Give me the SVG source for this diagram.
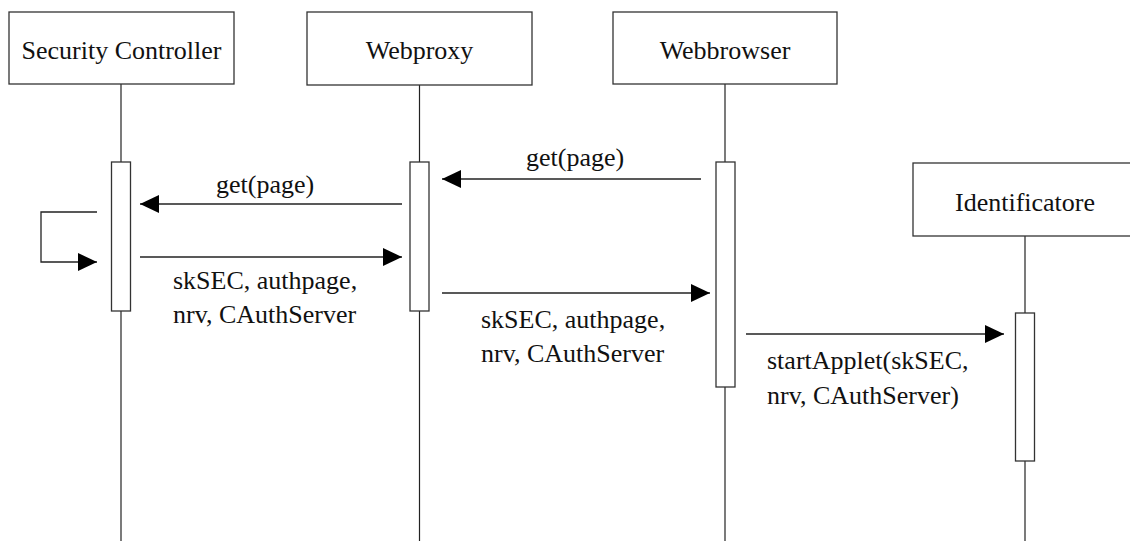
<svg xmlns="http://www.w3.org/2000/svg" width="1130" height="541" viewBox="0 0 1130 541">
  <style>
    .box { fill: #fff; stroke: #333; stroke-width: 1.3; }
    .life { stroke: #222; stroke-width: 1.2; fill: none; }
    .bar { fill: #fff; stroke: #333; stroke-width: 1.3; }
    .msg { stroke: #222; stroke-width: 1.3; fill: none; marker-end: url(#ah); }
    .t { font-family: "Liberation Serif", "DejaVu Serif", serif; font-size: 26px; fill: #111; }
    .c { text-anchor: middle; }
  </style>
  <defs>
    <marker id="ah" markerUnits="userSpaceOnUse" markerWidth="20" markerHeight="20" refX="19" refY="9" orient="auto">
      <path d="M0,0 L19,9 L0,18 z" fill="#000"/>
    </marker>
  </defs>
  <rect width="1130" height="541" fill="#fff"/>

  <g id="lifelines">
    <line class="life" x1="121" y1="84" x2="121" y2="541"/>
    <line class="life" x1="419.5" y1="85" x2="419.5" y2="541"/>
    <line class="life" x1="725" y1="84" x2="725" y2="541"/>
    <line class="life" x1="1025" y1="236" x2="1025" y2="541"/>
  </g>

  <g id="security-controller">
    <rect class="box" x="9" y="12" width="225" height="72"/>
    <text class="t c" x="121.5" y="59">Security Controller</text>
    <rect class="bar" x="111.5" y="162" width="19" height="149"/>
  </g>

  <g id="webproxy">
    <rect class="box" x="307" y="12" width="225" height="73"/>
    <text class="t c" x="419.5" y="59">Webproxy</text>
    <rect class="bar" x="410" y="162" width="19" height="149"/>
  </g>

  <g id="webbrowser">
    <rect class="box" x="613" y="12" width="224" height="72"/>
    <text class="t c" x="725" y="59">Webbrowser</text>
    <rect class="bar" x="716" y="162" width="19" height="225"/>
  </g>

  <g id="identificatore">
    <rect class="box" x="913" y="163" width="230" height="73"/>
    <text class="t c" x="1025" y="211">Identificatore</text>
    <rect class="bar" x="1015.5" y="313" width="19" height="148"/>
  </g>

  <g id="connectors">
    <path class="msg" d="M701,179 L442,179"/>
    <path class="msg" d="M402,204 L140,204"/>
    <path class="msg" d="M97,212 L41,212 L41,262 L97,262"/>
    <path class="msg" d="M140,257 L402,257"/>
    <path class="msg" d="M442,293 L710,293"/>
    <path class="msg" d="M746,334 L1004,334"/>
  </g>

  <g id="labels">
    <text class="t" x="526" y="166">get(page)</text>
    <text class="t" x="216" y="193">get(page)</text>
    <text class="t" x="173" y="289">skSEC, authpage,</text>
    <text class="t" x="173" y="323">nrv, CAuthServer</text>
    <text class="t" x="481" y="328">skSEC, authpage,</text>
    <text class="t" x="481" y="362">nrv, CAuthServer</text>
    <text class="t" x="767" y="369">startApplet(skSEC,</text>
    <text class="t" x="767" y="404">nrv, CAuthServer)</text>
  </g>
</svg>
